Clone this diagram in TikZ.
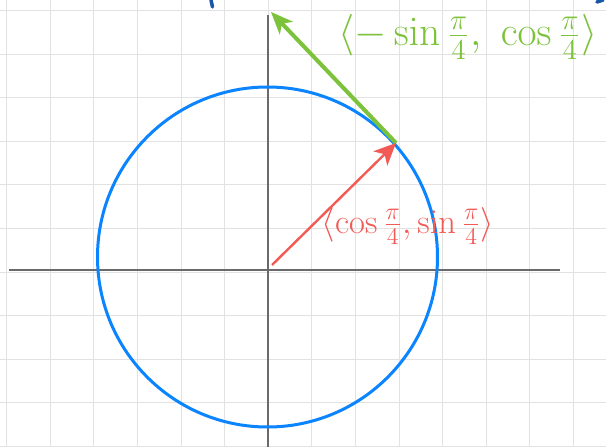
\documentclass[tikz,border=0pt]{standalone}
\usetikzlibrary{arrows.meta}
\definecolor{gridgray}{HTML}{E2E2E2}
\definecolor{axisgray}{HTML}{6A6A6A}
\definecolor{circblue}{HTML}{0A84FF}
\definecolor{vecred}{HTML}{F25A55}
\definecolor{vecgreen}{HTML}{7CC23A}
\definecolor{inkblue}{HTML}{1A56A8}
\tikzset{
  gridline/.style={draw=gridgray, line width=1pt},
  axisline/.style={draw=axisgray, line width=1.6pt},
  unitcircle/.style={draw=circblue, line width=3pt},
  redvec/.style={draw=vecred, line width=2.4pt, -{Stealth[length=22pt,width=20pt,inset=6pt]}, fill=vecred},
  greenvec/.style={draw=vecgreen, line width=4pt, -{Stealth[length=22pt,width=18pt,inset=6pt]}, fill=vecgreen},
  redlabel/.style={text=vecred, font=\fontsize{17.28}{20}\selectfont, inner sep=0pt},
  greenlabel/.style={text=vecgreen, font=\fontsize{17.28}{20}\selectfont, inner sep=0pt},
  inkmark/.style={draw=inkblue, line width=3.5pt, line cap=round}
}
\begin{document}
\begin{tikzpicture}[x=1pt,y=-1pt]
\useasboundingbox (0,0) rectangle (606,447);
\fill[white] (0,0) rectangle (606,447);
% grid
\foreach \k in {0,...,13} {
  \draw[gridline] ({6.7+43.6*\k},0) -- ({6.7+43.6*\k},447);
}
\foreach \k in {0,...,10} {
  \draw[gridline] (0,{10.4+43.6*\k}) -- (606,{10.4+43.6*\k});
}
% axes
\coordinate (xl) at (8.5,270);
\coordinate (xr) at (560,270);
\coordinate (yt) at (268,15);
\coordinate (yb) at (268,447);
\draw[axisline] (xl) -- (xr);
\draw[axisline] (yt) -- (yb);
% circle
\coordinate (C) at (267.5,257);
\draw[unitcircle] (C) circle[radius=170];
% vectors
\coordinate (O) at (272,265);
\coordinate (P) at (396,143);
\coordinate (G) at (271,12);
\draw[greenvec] (P) -- (G);
\draw[redvec] (O) -- (P);
% labels
\node[greenlabel] (gl) at (468,37) {\scalebox{2.4}{$\langle -\sin\frac{\pi}{4},\ \cos\frac{\pi}{4}\rangle$}};
\node[redlabel] (rl) at (408,226) {\scalebox{2.0}{$\langle \cos\frac{\pi}{4}, \sin\frac{\pi}{4}\rangle$}};
% cut-off ink marks at top edge
\draw[inkmark] (211,0) -- (212.5,7);
\draw[inkmark] (597,2) -- (603,0);
\end{tikzpicture}
\end{document}
